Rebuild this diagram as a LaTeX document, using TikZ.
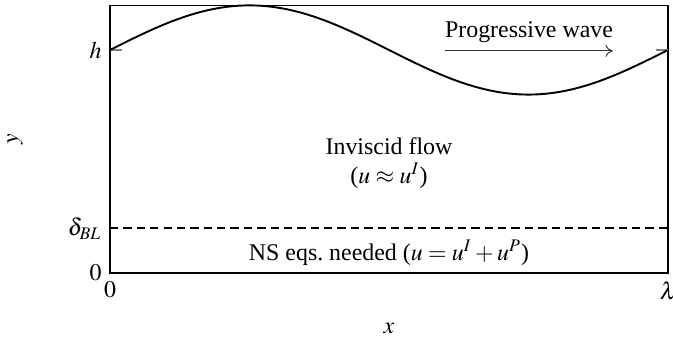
\documentclass[tikz,border=0pt]{standalone}
\usepackage{amsmath,amssymb}
\usepackage{mathptmx}
\usepackage{fontspec}
\setmainfont{Liberation Serif}
\usepackage{xcolor}
\usepackage{tikz}
\usetikzlibrary{arrows.meta,positioning,calc}

\begin{document}
\begin{tikzpicture}[
  x=233.5pt, y=93.3pt,
  wave/.style={thick, line join=round},
  axisbox/.style={line width=0.5pt},
  bllevel/.style={thick, dash pattern=on 3.5pt off 2.1pt},
  tickmark/.style={gray, line width=0.5pt},
  arrow/.style={-{To[length=3pt,width=5pt]}, line width=0.4pt, gray!40!black},
  lbl/.style={inner sep=0.333em}
]
\useasboundingbox (-0.1971,-0.3049) rectangle (1.0090,1.2242);

% domain
\draw[axisbox] (0,0) rectangle (1,1.2);
\draw[tickmark] (0,1) -- (0.0215,1);
\draw[tickmark] (1,1) -- (0.9785,1);

% boundary layer edge and free surface
\draw[bllevel] (0,0.2) -- (1,0.2);
\draw[wave] plot[domain=0:1, samples=120, smooth] (\x,{1+0.2*sin(360*\x)});

% tick labels
\node[lbl, left] (yh) at (0,1) {$h$};
\node[lbl, left] (ydelta) at (0,0.2) {$\delta_{BL}$};
\node[lbl, left] (yzero) at (0,0) {$0$};
\node[lbl, below] (xzero) at (0,0) {$0$};
\node[lbl, below] (xlam) at (1,0) {$\lambda$};

% axis labels
\node (xlabel) at (0.5,-0.247) {$x$};
\node[rotate=90] (ylabel) at (-0.170,0.6) {$y$};

% regions
\node[align=center] (inviscid) at (0.5,0.494) {Inviscid flow\\($u \approx u^I$)};
\node (ns) at (0.5,0.09) {NS eqs.\ needed ($u = u^I + u^P$)};

% direction of propagation
\node (prog) at (0.751,1.078) {Progressive wave};
\coordinate (wstart) at (0.600,0.996);
\coordinate (wend) at (0.901,0.996);
\draw[arrow] (wstart) -- (wend);
\end{tikzpicture}
\end{document}
